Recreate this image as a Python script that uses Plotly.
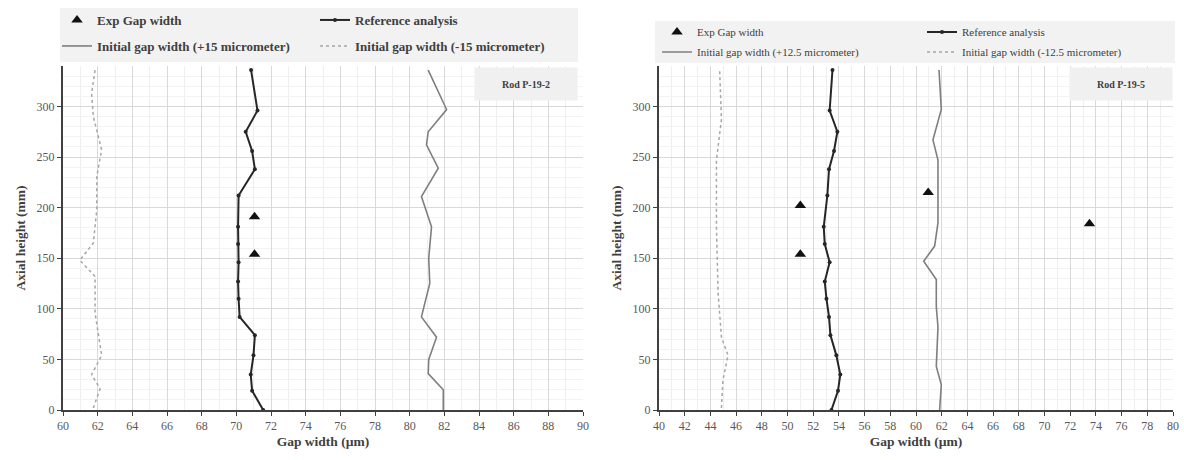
import plotly.graph_objects as go

# ---------------- data: Rod P-19-2 (left) ----------------
ref_z_left = [0, 19, 35, 54, 74, 92, 110, 127, 146, 164, 181, 212, 238, 256, 275, 296, 336]
ref_x_left = [71.55, 70.91, 70.83, 70.99, 71.07, 70.19, 70.13, 70.10, 70.13, 70.10, 70.10,
              70.13, 71.07, 70.91, 70.54, 71.22, 70.85]
exp_z_left = [191, 154]
exp_x_left = [71.05, 71.05]
plus_z_left = [0, 20, 36, 50, 72, 92, 125, 150, 181, 211, 239, 262, 275, 297, 336]
plus_x_left = [81.94, 81.94, 81.07, 81.10, 81.55, 80.68, 81.16, 81.10, 81.26, 80.68,
               81.65, 80.97, 81.07, 82.13, 81.07]
minus_z_left = [2, 21, 35, 54, 96, 132, 148, 165, 198, 231, 257, 290, 313, 336]
minus_x_left = [61.75, 62.14, 61.65, 62.23, 61.85, 61.85, 60.97, 61.75, 61.95, 61.95,
                62.23, 61.75, 61.65, 61.85]

# ---------------- data: Rod P-19-5 (right) ----------------
ref_z_right = [0, 19, 35, 54, 74, 92, 110, 127, 146, 164, 181, 212, 238, 256, 275, 296, 336]
ref_x_right = [53.42, 53.93, 54.11, 53.80, 53.34, 53.23, 53.03, 52.90, 53.28, 52.90, 52.82,
               53.10, 53.23, 53.62, 53.88, 53.28, 53.50]
exp_z_right = [202, 154, 215, 184]
exp_x_right = [51.0, 51.0, 60.95, 73.5]
plus_z_right = [0, 25, 43, 82, 102, 129, 147, 162, 185, 247, 267, 297, 336]
plus_x_right = [61.84, 61.97, 61.58, 61.71, 61.58, 61.58, 60.60, 61.45, 61.71, 61.71,
                61.32, 61.97, 61.79]
minus_z_right = [2, 30, 54, 72, 115, 181, 247, 287, 336]
minus_x_right = [44.86, 44.98, 45.37, 44.86, 44.60, 44.47, 44.47, 44.86, 44.72]

x_ticks_left = list(range(60, 91, 2))
x_ticks_right = list(range(40, 81, 2))
y_ticks = [0, 50, 100, 150, 200, 250, 300]

names_left = ["Exp Gap width", "Reference analysis",
              "Initial gap width (+15 micrometer)", "Initial gap width (-15 micrometer)"]
names_right = ["Exp Gap width", "Reference analysis",
               "Initial gap width (+12.5 micrometer)", "Initial gap width (-12.5 micrometer)"]
rod_labels = ["Rod P-19-2", "Rod P-19-5"]

W, H = 1184, 460
ML, MR, MT, MB = 63, 11, 66, 50
PW, PH = W - ML - MR, H - MT - MB


def px(x):
    return (x - ML) / PW


def py(y):
    return (H - MB - y) / PH


SERIF = "Liberation Serif, Times New Roman, serif"
REF_COLOR = "#262626"
PLUS_COLOR = "#7f7f7f"
MINUS_COLOR = "#a6a6a6"

fig = go.Figure()


def add_panel(xa, ya, ref_x, ref_z, exp_x, exp_z, plus_x, plus_z, minus_x, minus_z,
              names, leg_a, leg_b):
    fig.add_trace(go.Scatter(x=exp_x, y=exp_z, mode="markers", name=names[0],
                             marker=dict(symbol="triangle-up", size=10, color="#111111"),
                             xaxis=xa, yaxis=ya, legend=leg_a))
    fig.add_trace(go.Scatter(x=ref_x, y=ref_z, mode="lines+markers", name=names[1],
                             line=dict(color=REF_COLOR, width=2),
                             marker=dict(symbol="circle", size=4, color=REF_COLOR),
                             xaxis=xa, yaxis=ya, legend=leg_a))
    fig.add_trace(go.Scatter(x=plus_x, y=plus_z, mode="lines", name=names[2],
                             line=dict(color=PLUS_COLOR, width=1.6),
                             xaxis=xa, yaxis=ya, legend=leg_b))
    fig.add_trace(go.Scatter(x=minus_x, y=minus_z, mode="lines", name=names[3],
                             line=dict(color=MINUS_COLOR, width=1.5, dash="dot"),
                             xaxis=xa, yaxis=ya, legend=leg_b))


add_panel("x", "y", ref_x_left, ref_z_left, exp_x_left, exp_z_left,
          plus_x_left, plus_z_left, minus_x_left, minus_z_left, names_left, "legend", "legend2")
add_panel("x2", "y2", ref_x_right, ref_z_right, exp_x_right, exp_z_right,
          plus_x_right, plus_z_right, minus_x_right, minus_z_right, names_right, "legend3", "legend4")

# plot-area pixel geometry
L1, R1 = 63, 583
L2, R2 = 659, 1173

axis_common = dict(
    showline=True, linecolor="#404040", linewidth=2, automargin=False,
    ticks="outside", ticklen=4, tickcolor="#404040", tickwidth=1,
    tickfont=dict(family=SERIF, size=12, color="#595959"),
    showgrid=True, gridcolor="#d9d9d9", gridwidth=1, zeroline=False,
    title_font=dict(family=SERIF, size=13.5, color="#404040"),
)

fig.update_layout(
    width=W, height=H,
    margin=dict(l=ML, r=MR, t=MT, b=MB, autoexpand=False),
    paper_bgcolor="white", plot_bgcolor="white",
    showlegend=True,
    xaxis=dict(domain=[px(L1), px(R1)], range=[60, 90], tickvals=x_ticks_left,
               anchor="y", title=dict(text="<b>Gap width (µm)</b>", standoff=4),
               minor=dict(dtick=1, showgrid=True, gridcolor="#efefef"), **axis_common),
    yaxis=dict(domain=[0, 1], range=[0, 340], tickvals=y_ticks,
               anchor="x", title=dict(text="<b>Axial height (mm)</b>", standoff=8),
               minor=dict(dtick=10, showgrid=True, gridcolor="#f3f3f3"), **axis_common),
    xaxis2=dict(domain=[px(L2), px(R2)], range=[40, 80], tickvals=x_ticks_right,
                anchor="y2", title=dict(text="<b>Gap width (µm)</b>", standoff=4),
                minor=dict(dtick=1, showgrid=True, gridcolor="#efefef"), **axis_common),
    yaxis2=dict(domain=[0, 1], range=[0, 340], tickvals=y_ticks,
                anchor="x2", title=dict(text="<b>Axial height (mm)</b>", standoff=8),
                minor=dict(dtick=10, showgrid=True, gridcolor="#f3f3f3"), **axis_common),
)

leg_font_l = dict(family=SERIF, size=13, color="#404040", weight="bold")
leg_font_r = dict(family=SERIF, size=11, color="#404040")
leg_base = dict(orientation="h", xanchor="left", yanchor="middle", bgcolor="rgba(0,0,0,0)",
                entrywidthmode="pixels", itemwidth=30, tracegroupgap=0)

fig.update_layout(
    legend=dict(x=px(57), y=py(20), entrywidth=213, font=leg_font_l, **leg_base),
    legend2=dict(x=px(57), y=py(46), entrywidth=213, font=leg_font_l, **leg_base),
    legend3=dict(x=px(657), y=py(32), entrywidth=220, font=leg_font_r, **leg_base),
    legend4=dict(x=px(657), y=py(52), entrywidth=220, font=leg_font_r, **leg_base),
)

# legend background boxes
fig.add_shape(type="rect", xref="paper", yref="paper", x0=px(60), x1=px(578),
              y0=py(62), y1=py(8), fillcolor="#f2f2f2", line_width=0, layer="below")
fig.add_shape(type="rect", xref="paper", yref="paper", x0=px(655), x1=px(1175),
              y0=py(63), y1=py(21), fillcolor="#f2f2f2", line_width=0, layer="below")

# rod label boxes
for label, cx in zip(rod_labels, [526, 1121]):
    fig.add_annotation(xref="paper", yref="paper", x=px(cx), y=py(84),
                       text="<b>" + label + "</b>", showarrow=False,
                       font=dict(family=SERIF, size=10, color="#404040"),
                       bgcolor="#f0f0f0", width=100, height=30, xanchor="center", yanchor="middle")

fig.write_html("out.html", config={"displayModeBar": False},
               post_script="document.body.style.margin='0px';document.body.style.overflow='hidden';")
